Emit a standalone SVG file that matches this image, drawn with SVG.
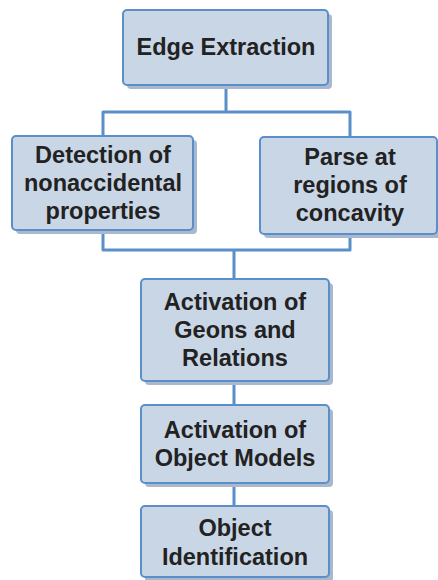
<svg xmlns="http://www.w3.org/2000/svg" width="438" height="580" viewBox="0 0 438 580">
<style>
.sh{fill:#a9b8cc}
.bx{fill:#c9d6e6;stroke:#5b8fca;stroke-width:2}
.t{font-family:"Liberation Sans",Arial,sans-serif;font-weight:bold;font-size:23.5px;fill:#222;text-anchor:middle}
.c{fill:none;stroke:#5b8fca;stroke-width:3;stroke-linejoin:round}
</style>
<rect width="438" height="580" fill="#fff"/>
<g id="connectors">
<path class="c" d="M226 85V112M103 136V112H350V137"/>
<path class="c" d="M103 230V250H350V234M234 250V280"/>
<path class="c" d="M234 381V405M234 483V506"/>
</g>
<g id="n1">
<rect class="sh" x="127" y="14" width="205" height="75" rx="4"/>
<rect class="bx" x="123" y="10" width="205" height="75" rx="4"/>
<text class="t" x="226" y="55">Edge Extraction</text>
</g>
<g id="n2">
<rect class="sh" x="16" y="140" width="181" height="94" rx="4"/>
<rect class="bx" x="12" y="136" width="181" height="94" rx="4"/>
<text class="t" x="103" y="163">Detection of</text>
<text class="t" x="103" y="191">nonaccidental</text>
<text class="t" x="103" y="219">properties</text>
</g>
<g id="n3">
<rect class="sh" x="264" y="141" width="178" height="97" rx="4"/>
<rect class="bx" x="260" y="137" width="177" height="97" rx="4"/>
<text class="t" x="350" y="165">Parse at</text>
<text class="t" x="350" y="193">regions of</text>
<text class="t" x="350" y="221">concavity</text>
</g>
<g id="n4">
<rect class="sh" x="145" y="283" width="188" height="102" rx="4"/>
<rect class="bx" x="141" y="279" width="188" height="102" rx="4"/>
<text class="t" x="235" y="310">Activation of</text>
<text class="t" x="235" y="338">Geons and</text>
<text class="t" x="235" y="366">Relations</text>
</g>
<g id="n5">
<rect class="sh" x="145" y="409" width="188" height="78" rx="4"/>
<rect class="bx" x="141" y="405" width="188" height="78" rx="4"/>
<text class="t" x="235" y="438">Activation of</text>
<text class="t" x="235" y="466">Object Models</text>
</g>
<g id="n6">
<rect class="sh" x="145" y="510" width="188" height="72" rx="4"/>
<rect class="bx" x="141" y="506" width="188" height="71" rx="4"/>
<text class="t" x="235" y="536">Object</text>
<text class="t" x="235" y="565">Identification</text>
</g>
</svg>
